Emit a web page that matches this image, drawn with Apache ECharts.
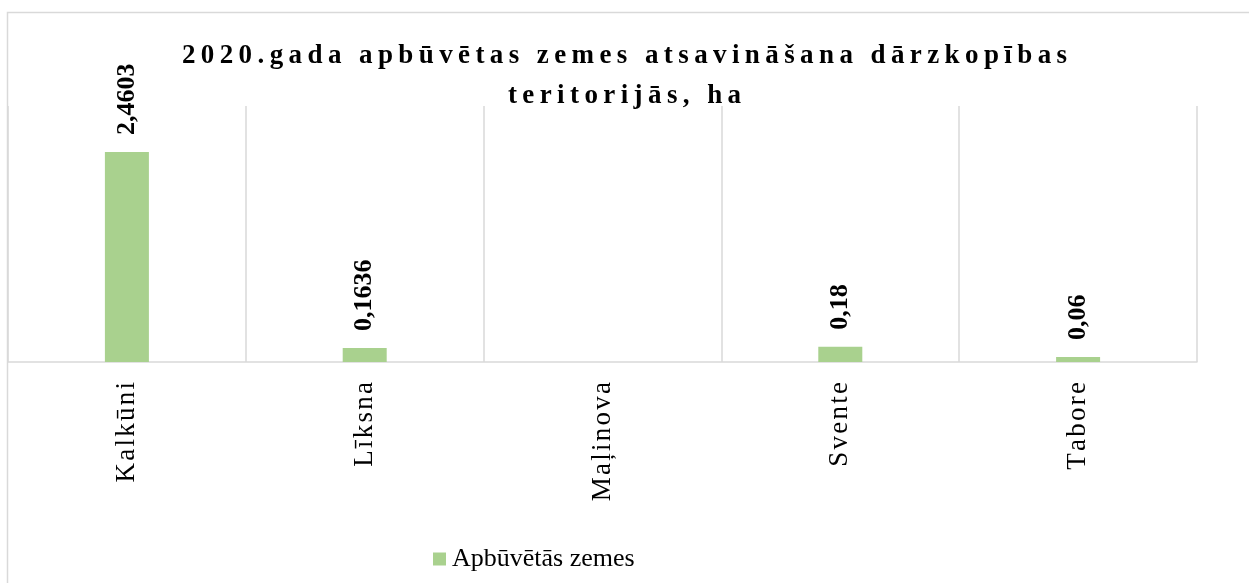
<!DOCTYPE html>
<html>
<head>
<meta charset="utf-8">
<script src="https://cdn.jsdelivr.net/npm/echarts@6/dist/echarts.min.js"></script>
<style>
    html, body { margin: 0; padding: 0; background: #fff; }
    #chart { width: 1249px; height: 583px; }
</style>
</head>
<body>
<div id="chart"></div>
<script>
// dati
const titleLines = ['2020.gada apbūvētas zemes atsavināšana dārzkopības', 'teritorijās, ha'];
const categories = ['Kalkūni', 'Līksna', 'Maļinova', 'Svente', 'Tabore'];
const seriesName = 'Apbūvētās zemes';
const values = [2.4603, 0.1636, null, 0.18, 0.06];
const yMax = 3;

// burtu atstatums kā oriģinālā
const spaced = (s, gap) => s.split('').join(gap);

const chart = echarts.init(document.getElementById('chart'));

const option = {
    animation: false,
    textStyle: { fontFamily: '"Liberation Serif", "Times New Roman", serif' },
    title: {
        text: titleLines.map((t) => spaced(t, '\u2009')).join('\n'),
        left: 'center',
        top: 31,
        textStyle: {
            fontFamily: '"Liberation Serif", serif',
            fontSize: 27,
            fontWeight: 'bold',
            color: '#000',
            lineHeight: 40
        }
    },
    graphic: [{
        type: 'rect',
        shape: { x: 7.5, y: 12.5, width: 1300, height: 700 },
        style: { fill: 'none', stroke: '#d9d9d9', lineWidth: 1.5 },
        silent: true
    }],
    legend: {
        left: 433,
        top: 546,
        padding: 0,
        itemWidth: 13,
        itemHeight: 13,
        icon: 'rect',
        data: [seriesName],
        textStyle: { fontFamily: '"Liberation Serif", serif', fontSize: 26, color: '#000', padding: [0, 0, 0, 1] }
    },
    grid: { left: 8, right: 52, top: 106, bottom: 221, containLabel: false },
    xAxis: {
        type: 'category',
        data: categories,
        axisLine: { lineStyle: { color: '#d9d9d9', width: 1.5 } },
        axisTick: { show: false },
        splitLine: { show: true, interval: 0, lineStyle: { color: '#d9d9d9', width: 1.5 } },
        axisLabel: {
            interval: 0,
            rotate: 90,
            margin: 20,
            fontSize: 27,
            color: '#000',
            formatter: (v) => spaced(v, '\u200a')
        }
    },
    yAxis: {
        type: 'value',
        min: 0,
        max: yMax,
        show: false,
        splitLine: { show: false }
    },
    series: [{
        name: seriesName,
        type: 'bar',
        data: values,
        barWidth: 44,
        itemStyle: { color: '#a9d18e' },
        label: {
            show: true,
            position: 'top',
            rotate: 90,
            align: 'left',
            verticalAlign: 'middle',
            distance: 17,
            fontSize: 26,
            fontWeight: 'bold',
            color: '#000',
            formatter: (p) => String(p.value).replace('.', ',')
        }
    }]
};

chart.setOption(option);
window.addEventListener('resize', () => chart.resize());
</script>
</body>
</html>
